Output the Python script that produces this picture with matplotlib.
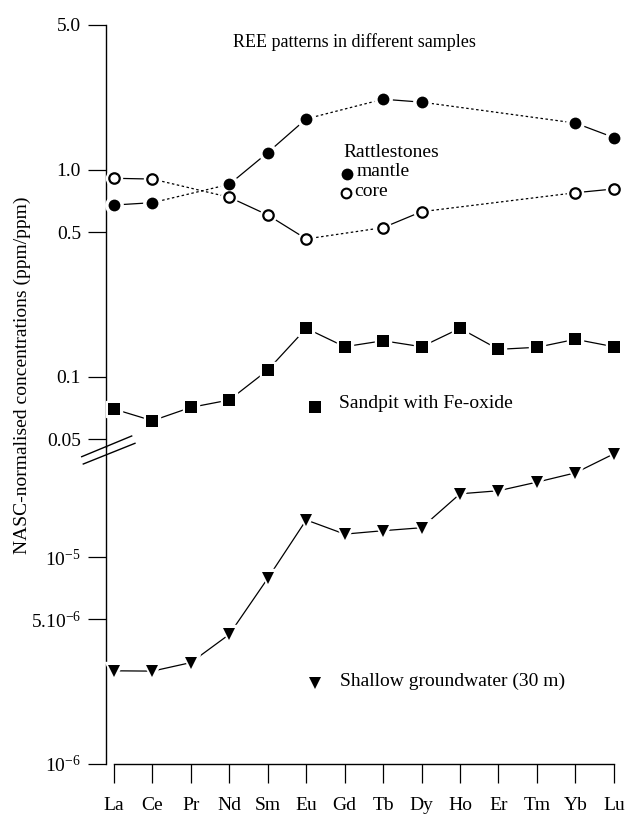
import numpy as np
import matplotlib.pyplot as plt
from matplotlib.ticker import FixedLocator, NullLocator

plt.rcParams['font.family'] = ['Liberation Serif', 'DejaVu Serif']
plt.rcParams['mathtext.fontset'] = 'custom'
plt.rcParams['mathtext.rm'] = 'Liberation Serif'
plt.rcParams['mathtext.it'] = 'Liberation Serif:italic'

# REE data, NASC-normalised (ppm/ppm); nan = not measured
elements = ['La', 'Ce', 'Pr', 'Nd', 'Sm', 'Eu', 'Gd', 'Tb', 'Dy', 'Ho', 'Er', 'Tm', 'Yb', 'Lu']
nan = np.nan
mantle = [0.675, 0.693, nan, 0.850, 1.21, 1.76, nan, 2.19, 2.12, nan, nan, nan, 1.68, 1.43]
core = [0.909, 0.901, nan, 0.736, 0.604, 0.463, nan, 0.525, 0.627, nan, nan, nan, 0.774, 0.807]
sandpit = [0.0698, 0.0613, 0.0711, 0.0772, 0.1077, 0.1713, 0.1396, 0.1492, 0.1396, 0.1713,
           0.1356, 0.1387, 0.1516, 0.1396]
groundwater = [2.82e-6, 2.81e-6, 3.09e-6, 4.23e-6, 7.89e-6, 1.51e-5, 1.29e-5, 1.34e-5, 1.385e-5,
               2.02e-5, 2.09e-5, 2.30e-5, 2.55e-5, 3.15e-5]

upper_ticks = [5.0, 1.0, 0.5, 0.1, 0.05]
upper_labels = ['5.0', '1.0', '0.5', '0.1', '0.05']
lower_ticks = [1e-5, 5e-6, 1e-6]
lower_labels = [r'10$^{-5}$', r'5.10$^{-6}$', r'10$^{-6}$']

fig = plt.figure(figsize=(6.32, 8.14), dpi=100)
ax_up = fig.add_axes([0.1677, 0.45086, 0.8212, 0.51843])
ax_lo = fig.add_axes([0.1677, 0.06143, 0.8212, 0.38943])

xmin, xmax = -0.208, 13.29
for ax in (ax_up, ax_lo):
    ax.set_yscale('log')
    ax.set_xlim(xmin, xmax)
    ax.patch.set_visible(False)
    for s in ('top', 'right'):
        ax.spines[s].set_visible(False)
    ax.spines['left'].set_linewidth(1.0)
    ax.yaxis.set_minor_locator(NullLocator())
    ax.tick_params(axis='y', direction='out', length=13, width=0.9, labelsize=14, pad=5)

ax_up.set_ylim(0.04576, 5.0)
ax_up.yaxis.set_major_locator(FixedLocator(upper_ticks))
ax_up.set_yticklabels(upper_labels)
ax_up.spines['bottom'].set_visible(False)
ax_up.set_xticks([])

ax_lo.set_ylim(1e-6, 3.40e-5)
ax_lo.yaxis.set_major_locator(FixedLocator(lower_ticks))
ax_lo.set_yticklabels(lower_labels)
ax_lo.spines['bottom'].set_bounds(0, len(elements) - 1)
ax_lo.spines['bottom'].set_linewidth(1.0)
ax_lo.set_xticks(range(len(elements)))
ax_lo.set_xticklabels(elements)
ax_lo.tick_params(axis='x', direction='out', length=14, width=0.9, labelsize=14, pad=10)


def draw_series(ax, values, marker, ms, mfc, mew=0.0):
    x = np.arange(len(values))
    y = np.array(values, dtype=float)
    ok = ~np.isnan(y)
    xs, ys = x[ok], y[ok]
    # solid between neighbouring elements, dotted across missing ones
    for i in range(len(xs) - 1):
        ls = '-' if xs[i + 1] - xs[i] == 1 else (0, (2, 2))
        ax.plot(xs[i:i + 2], ys[i:i + 2], color='black', lw=0.9, ls=ls, clip_on=False, zorder=2)
    ax.plot(xs, ys, ls='none', marker=marker, ms=ms + 4, mfc='white', mec='white',
            clip_on=False, zorder=3)
    ax.plot(xs, ys, ls='none', marker=marker, ms=ms, mfc=mfc, mec='black', mew=mew,
            clip_on=False, zorder=4)


draw_series(ax_up, mantle, 'o', 8.5, 'black')
draw_series(ax_up, core, 'o', 7.5, 'white', mew=1.6)
draw_series(ax_up, sandpit, 's', 8, 'black')
draw_series(ax_lo, groundwater, 'v', 9, 'black')


def key(ax, x, y, marker, ms, mfc, mew=0.0):
    ax.plot([x], [y], transform=ax.transAxes, ls='none', marker=marker, ms=ms,
            mfc=mfc, mec='black', mew=mew, clip_on=False)


# annotations
ax_up.text(0.4788, 0.9597, 'REE patterns in different samples', transform=ax_up.transAxes,
           ha='center', va='center', fontsize=13)
ax_up.text(0.4566, 0.699, 'Rattlestones', transform=ax_up.transAxes, ha='left', va='center', fontsize=14)
key(ax_up, 0.4644, 0.648, 'o', 8.5, 'black')
ax_up.text(0.4837, 0.6524, 'mantle', transform=ax_up.transAxes, ha='left', va='center', fontsize=14)
key(ax_up, 0.4630, 0.603, 'o', 7, 'white', mew=1.5)
ax_up.text(0.4789, 0.6066, 'core', transform=ax_up.transAxes, ha='left', va='center', fontsize=14)
key(ax_up, 0.4027, 0.0955, 's', 8, 'black')
ax_up.text(0.449, 0.1019, 'Sandpit with Fe-oxide', transform=ax_up.transAxes, ha='left', va='center', fontsize=14)
key(ax_lo, 0.4027, 0.2555, 'v', 9, 'black')
ax_lo.text(0.4509, 0.2618, 'Shallow groundwater (30 m)', transform=ax_lo.transAxes, ha='left', va='center', fontsize=14)

fig.text(22 / 632, 1 - 375 / 814, 'NASC-normalised concentrations (ppm/ppm)', rotation=90,
         ha='center', va='center', fontsize=14)

# axis break marks
for (x0, y0), (x1, y1) in [((81.7, 456.7), (131.7, 436.0)), ((83.3, 464.0), (135.0, 443.3))]:
    ax_lo.plot([(x0 - 106) / 519, (x1 - 106) / 519], [(764 - y0) / 317, (764 - y1) / 317],
               transform=ax_lo.transAxes, color='black', lw=1.0, clip_on=False)

fig.savefig('out.png', dpi=100)
